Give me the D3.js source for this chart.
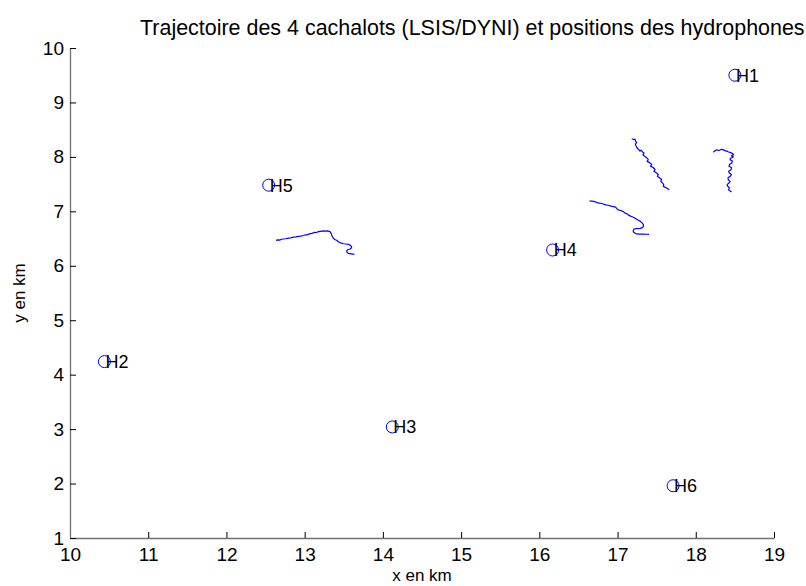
<!DOCTYPE html>
<html>
<head>
<meta charset="utf-8">
<script src="https://cdn.jsdelivr.net/npm/d3@7"></script>
<style>
  html, body { margin: 0; padding: 0; background: #fff; }
  svg { display: block; }
  text { font-family: "Liberation Sans", Arial, Helvetica, sans-serif; fill: #000; }
</style>
</head>
<body>
<svg id="chart" width="806" height="586"></svg>
<script>
// Axis ranges and ticks (km)
const xDomain = [10, 19];
const yDomain = [1, 10];
const xTicks = [10, 11, 12, 13, 14, 15, 16, 17, 18, 19];
const yTicks = [1, 2, 3, 4, 5, 6, 7, 8, 9, 10];

// Hydrophone positions
const hydroNames = ["H1", "H2", "H3", "H4", "H5", "H6"];
const hydroX = [18.50, 10.44, 14.12, 16.17, 12.54, 17.71];
const hydroY = [9.50, 4.24, 3.04, 6.29, 7.48, 1.96];

// Sperm whale tracks (x, y in km)
const track1 = [
  [12.634, 6.468], [12.660, 6.476], [12.680, 6.472], [12.705, 6.487], [12.727, 6.492],
  [12.760, 6.496], [12.790, 6.508], [12.820, 6.512], [12.855, 6.526], [12.890, 6.530],
  [12.920, 6.541], [12.950, 6.546], [12.983, 6.556], [13.010, 6.570], [13.030, 6.566],
  [13.060, 6.586], [13.090, 6.596], [13.110, 6.604], [13.130, 6.616], [13.150, 6.611],
  [13.174, 6.626], [13.200, 6.632], [13.238, 6.642], [13.260, 6.636], [13.290, 6.640],
  [13.324, 6.626], [13.340, 6.590], [13.346, 6.560], [13.366, 6.504], [13.390, 6.478],
  [13.410, 6.468], [13.430, 6.442], [13.460, 6.420], [13.494, 6.405], [13.530, 6.400],
  [13.558, 6.394], [13.585, 6.375], [13.601, 6.350], [13.595, 6.325], [13.580, 6.308],
  [13.550, 6.295], [13.537, 6.271], [13.545, 6.240], [13.558, 6.229], [13.600, 6.220],
  [13.635, 6.211]
];
const track2 = [
  [16.639, 7.190], [16.670, 7.187], [16.712, 7.177], [16.740, 7.160], [16.765, 7.152],
  [16.790, 7.148], [16.818, 7.134], [16.850, 7.118], [16.880, 7.112], [16.915, 7.095],
  [16.946, 7.088], [16.975, 7.078], [16.990, 7.050], [17.010, 7.026], [17.040, 7.016],
  [17.074, 6.995], [17.095, 6.968], [17.120, 6.955], [17.140, 6.930], [17.159, 6.916],
  [17.180, 6.904], [17.200, 6.892], [17.225, 6.872], [17.245, 6.856], [17.265, 6.836],
  [17.285, 6.822], [17.309, 6.793], [17.330, 6.760], [17.329, 6.717], [17.310, 6.695],
  [17.287, 6.688], [17.240, 6.684], [17.210, 6.672], [17.201, 6.646], [17.201, 6.626],
  [17.225, 6.598], [17.245, 6.585], [17.290, 6.582], [17.329, 6.580], [17.370, 6.579],
  [17.402, 6.578]
];
const track3 = [
  [17.181, 8.334], [17.205, 8.320], [17.223, 8.326], [17.230, 8.290], [17.245, 8.262],
  [17.228, 8.235], [17.236, 8.200], [17.250, 8.163], [17.268, 8.140], [17.287, 8.108],
  [17.300, 8.125], [17.320, 8.090], [17.340, 8.068], [17.325, 8.040], [17.351, 8.005],
  [17.372, 7.985], [17.393, 7.950], [17.378, 7.918], [17.410, 7.895], [17.437, 7.860],
  [17.422, 7.830], [17.455, 7.805], [17.479, 7.768], [17.465, 7.735], [17.498, 7.705],
  [17.521, 7.676], [17.508, 7.645], [17.540, 7.612], [17.564, 7.585], [17.552, 7.550],
  [17.575, 7.520], [17.590, 7.489], [17.585, 7.460], [17.610, 7.440], [17.628, 7.428],
  [17.662, 7.397]
];
const track4 = [
  [18.224, 8.084], [18.240, 8.105], [18.268, 8.132], [18.290, 8.118], [18.310, 8.125],
  [18.330, 8.140], [18.352, 8.128], [18.375, 8.115], [18.396, 8.106], [18.420, 8.090],
  [18.438, 8.084], [18.470, 8.060], [18.485, 8.040], [18.455, 8.020], [18.480, 7.998],
  [18.445, 7.975], [18.438, 7.948], [18.468, 7.925], [18.460, 7.888], [18.430, 7.860],
  [18.425, 7.827], [18.458, 7.800], [18.451, 7.765], [18.420, 7.738], [18.428, 7.704],
  [18.455, 7.675], [18.441, 7.643], [18.412, 7.615], [18.416, 7.581], [18.438, 7.550],
  [18.425, 7.520], [18.400, 7.490], [18.408, 7.460], [18.430, 7.430], [18.418, 7.397],
  [18.440, 7.375], [18.457, 7.355]
];
const tracks = [track1, track2, track3, track4];

const titleText = "Trajectoire des 4 cachalots (LSIS/DYNI) et positions des hydrophones";
const xLabel = "x en km";
const yLabel = "y en km";

const svg = d3.select("#chart");
const plot = { left: 70, right: 774, top: 48, bottom: 538 };

const x = d3.scaleLinear().domain(xDomain).range([plot.left, plot.right]);
const y = d3.scaleLinear().domain(yDomain).range([plot.bottom, plot.top]);

// Axes with inward ticks
const gx = svg.append("g")
  .attr("transform", `translate(0,${plot.bottom})`)
  .call(d3.axisBottom(x).tickValues(xTicks).tickFormat(d3.format("d"))
    .tickSizeInner(-6).tickSizeOuter(0).tickPadding(10));
const gy = svg.append("g")
  .attr("transform", `translate(${plot.left},0)`)
  .call(d3.axisLeft(y).tickValues(yTicks).tickFormat(d3.format("d"))
    .tickSizeInner(-6).tickSizeOuter(0).tickPadding(6));

[gx, gy].forEach(g => {
  g.select(".domain").attr("stroke", "#707070").attr("stroke-width", 1.3);
  g.selectAll(".tick line").attr("stroke", "#000").attr("stroke-width", 1);
  g.selectAll(".tick text").attr("font-size", 19).attr("fill", "#000")
    .attr("font-family", "Liberation Sans, Arial, sans-serif");
});

// Tracks
const line = d3.line().x(d => x(d[0])).y(d => y(d[1]));
svg.append("g").selectAll("path")
  .data(tracks)
  .join("path")
  .attr("d", line)
  .attr("fill", "none")
  .attr("stroke", "#0000ff")
  .attr("stroke-width", 1.2)
  .attr("stroke-linejoin", "round");

// Hydrophones
const hydro = hydroNames.map((n, i) => ({ name: n, x: hydroX[i], y: hydroY[i] }));
const hg = svg.append("g").selectAll("g").data(hydro).join("g")
  .attr("transform", d => `translate(${x(d.x)},${y(d.y)})`);
hg.append("circle").attr("r", 6).attr("fill", "none")
  .attr("stroke", "#0000ff").attr("stroke-width", 1);
hg.append("text").attr("x", 1).attr("dy", "0.36em")
  .attr("font-size", 18).text(d => d.name);

// Title and axis labels
const title = svg.append("text").attr("x", 140).attr("y", 35)
  .attr("font-size", 16).text(titleText);
const tw = title.node().getComputedTextLength();
title.attr("font-size", 16 * 665 / tw);

svg.append("text").attr("x", (plot.left + plot.right) / 2).attr("y", 581)
  .attr("text-anchor", "middle").attr("font-size", 17).text(xLabel);
svg.append("text")
  .attr("transform", `translate(25,${(plot.top + plot.bottom) / 2}) rotate(-90)`)
  .attr("text-anchor", "middle").attr("font-size", 17).text(yLabel);
</script>
</body>
</html>
